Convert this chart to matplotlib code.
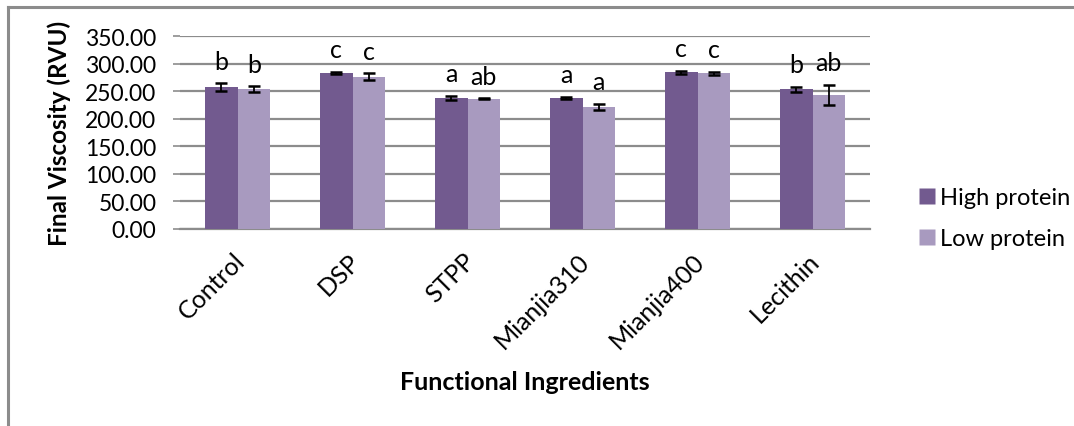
import matplotlib
matplotlib.use("Agg")
import matplotlib.pyplot as plt
from matplotlib.lines import Line2D
import matplotlib.transforms as mtransforms
import numpy as np

categories = ["Control", "DSP", "STPP", "Mianjia310", "Mianjia400", "Lecithin"]
high_protein = [257, 283, 238, 238, 284, 253]
high_err = [7, 2, 4, 2, 3, 5]
low_protein = [254, 276, 236, 221, 282, 243]
low_err = [5, 6, 1, 6, 3, 19]
high_letters = ["b", "c", "a", "a", "c", "b"]
low_letters = ["b", "c", "ab", "a", "c", "ab"]
series_names = ["High protein", "Low protein"]
y_ticks = [0, 50, 100, 150, 200, 250, 300, 350]

plt.rcParams['font.family'] = ['Lato', 'DejaVu Sans']
dark = "#725A8F"
light = "#A89ABF"
grid_c = "#8C8C8C"

fig = plt.figure(figsize=(10.74, 4.27), dpi=100)
ax = fig.add_axes([180/1074, 1-230/427, 690/1074, 193/427])

x = np.arange(len(categories))
w = 0.285
ax.bar(x - w/2, high_protein, w, color=dark, edgecolor="none", label=series_names[0], zorder=3)
ax.bar(x + w/2, low_protein, w, color=light, edgecolor="none", label=series_names[1], zorder=3)
ax.errorbar(x - w/2, high_protein, yerr=high_err, fmt="none", ecolor="black",
            elinewidth=1.3, capsize=4.5, capthick=1.8, zorder=4)
ax.errorbar(x + w/2, low_protein, yerr=low_err, fmt="none", ecolor="black",
            elinewidth=1.3, capsize=4.5, capthick=1.8, zorder=4)

for i in range(len(categories)):
    ax.text(x[i] - w/2, high_protein[i] + high_err[i] + 40, high_letters[i],
            ha="center", va="center", fontsize=18)
    ax.text(x[i] + w/2, low_protein[i] + low_err[i] + 40, low_letters[i],
            ha="center", va="center", fontsize=18)

ax.set_xlim(-0.5, len(categories) - 0.5)
ax.set_ylim(0, 350)
ax.set_yticks(y_ticks)
ax.set_yticklabels([f"{v:.2f}" for v in y_ticks], fontsize=16.5)
ax.yaxis.grid(True, color=grid_c, linewidth=1.6, zorder=0)
ax.set_axisbelow(True)
ax.tick_params(axis="y", length=5, width=1.2, color=grid_c, pad=12)
ax.tick_params(axis="x", length=0, pad=14)
ax.set_xticks(x)
ax.set_xticklabels(categories, rotation=45, ha="right", rotation_mode="anchor", fontsize=18)
shift = mtransforms.ScaledTranslation(-5/100, 0, fig.dpi_scale_trans)
for lbl in ax.get_xticklabels():
    lbl.set_transform(lbl.get_transform() + shift)
for s in ["left", "right", "top"]:
    ax.spines[s].set_visible(False)
ax.spines["bottom"].set_color(grid_c)
ax.spines["bottom"].set_linewidth(1.6)

ax.set_ylabel("Final Viscosity (RVU)", fontsize=17.5, fontweight="bold", va="center")
ax.yaxis.set_label_coords((59 - 180) / 690, 0.5)
ax.set_xlabel("Functional Ingredients", fontsize=18, fontweight="bold")
ax.xaxis.set_label_coords(0.5, -(382 - 230) / 193)
ax.xaxis.label.set_va("center")

handles = [Line2D([0], [0], marker="s", linestyle="none", markersize=11,
                  markerfacecolor=c, markeredgecolor="none") for c in (dark, light)]
fig.legend(handles, series_names, loc="center left", bbox_to_anchor=(903/1074, 1-219/427),
           frameon=False, fontsize=17, handletextpad=0.05, labelspacing=0.85,
           handlelength=1.0, borderpad=0)

# outer chart border (top and left visible)
fig.add_artist(Line2D([8/1074, 1.0], [1-8/427, 1-8/427], color="#8C8C8C", linewidth=2.2,
                      transform=fig.transFigure))
fig.add_artist(Line2D([8/1074, 8/1074], [0, 1-8/427], color="#8C8C8C", linewidth=2.2,
                      transform=fig.transFigure))

fig.savefig("out.png", dpi=100)
